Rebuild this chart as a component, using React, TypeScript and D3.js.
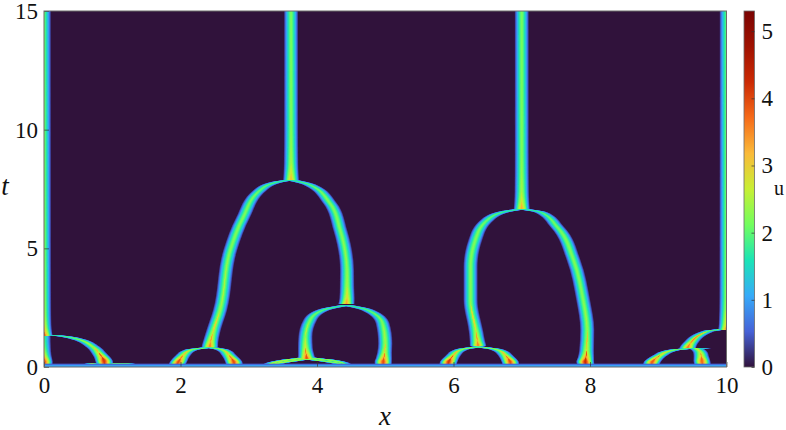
import * as d3 from 'd3'
import { useEffect, useRef } from 'react'

// ridge crests, each point is [x, t, peak u]
const leftEdgeLow = [[0, 0.1, 3.9], [0, 0.22, 4.1], [0, 0.36, 3.5], [0, 0.5, 2.8], [0, 0.8, 2.2], [0, 1.3, 1.9]]
const leftEdgeHigh = [[0, 1.33, 4], [0, 1.5, 3.3], [0, 1.8, 2.7], [0, 2.5, 2.4], [0, 4, 2.3], [0, 9, 2.2], [0, 15, 2.1]]
const firstArc = [[0.89, 0.1, 3.9], [0.88, 0.25, 4.2], [0.85, 0.42, 3.5], [0.8, 0.6, 2.8], [0.72, 0.84, 2.4], [0.43, 1.22, 2.1], [0.2, 1.32, 1.9], [0.02, 1.35, 1.8]]
const humpLeft = [[0.6, 0.09, 2.2], [0.72, 0.14, 2.8]]
const humpRight = [[1.6, 0.06, 1.8], [1.25, 0.13, 2.4], [1, 0.17, 2.5]]
const arc2Left = [[1.95, 0.1, 3.8], [1.97, 0.22, 4], [2, 0.36, 3.4], [2.04, 0.5, 2.8], [2.15, 0.72, 2.3], [2.43, 0.82, 2.1]]
const arc2Right = [[2.79, 0.1, 3.8], [2.78, 0.22, 4], [2.75, 0.36, 3.4], [2.71, 0.5, 2.8], [2.62, 0.72, 2.3], [2.43, 0.82, 2.1]]
const bigLeft = [[2.43, 0.85, 3.6], [2.44, 1.05, 3.1], [2.47, 1.4, 2.6], [2.58, 2.4, 2.35], [2.73, 4.93, 2.25], [2.92, 6.32, 2.25], [3.17, 7.46, 2.1], [3.42, 7.8, 1.9], [3.62, 7.88, 1.8]]
const bigRight = [[4.43, 2.65, 3.4], [4.44, 2.9, 2.9], [4.44, 3.4, 2.45], [4.44, 4.09, 2.3], [4.34, 5.77, 2.25], [4.19, 6.9, 2.25], [3.9, 7.67, 2], [3.62, 7.88, 1.8]]
const columnA = [[3.62, 7.88, 3.2], [3.62, 8.15, 2.8], [3.62, 8.6, 2.45], [3.62, 10, 2.25], [3.62, 15, 2.2]]
const midLeft = [[3.85, 0.36, 4], [3.84, 0.55, 3.3], [3.83, 0.8, 2.7], [3.83, 1.26, 2.3], [3.9, 1.98, 2.2], [4.09, 2.4, 2], [4.43, 2.6, 1.8]]
const midRight = [[4.97, 0.1, 3.8], [4.97, 0.22, 4], [4.98, 0.38, 3.4], [4.99, 0.6, 2.7], [5, 1, 2.4], [4.96, 1.85, 2.2], [4.74, 2.4, 2], [4.43, 2.6, 1.8]]
const lowLeft = [[3.3, 0.06, 1.8], [3.5, 0.2, 2.6], [3.85, 0.34, 2.4]]
const lowLeftOuter = [[3.26, 0.06, 1.8], [3.46, 0.24, 2.6], [3.85, 0.4, 2.4]]
const lowRight = [[4.4, 0.06, 1.8], [4.24, 0.2, 2.4], [3.85, 0.34, 2.4]]
const lowRightOuter = [[4.44, 0.06, 1.8], [4.28, 0.24, 2.4], [3.85, 0.4, 2.4]]
const arc6Left = [[5.92, 0.1, 4], [5.93, 0.22, 4.2], [5.96, 0.36, 3.5], [6, 0.5, 2.8], [6.1, 0.72, 2.3], [6.36, 0.85, 2.1]]
const arc6Right = [[6.84, 0.1, 3.8], [6.83, 0.22, 4], [6.8, 0.36, 3.4], [6.76, 0.5, 2.8], [6.65, 0.72, 2.3], [6.36, 0.85, 2.1]]
const secondLeft = [[6.36, 0.9, 3.6], [6.35, 1.1, 3], [6.33, 1.5, 2.55], [6.25, 2.82, 2.25], [6.25, 4.2, 2.25], [6.32, 5.35, 2.25], [6.5, 6.2, 2.1], [6.73, 6.53, 1.9], [7, 6.66, 1.8]]
const secondRight = [[7.94, 0.1, 4.1], [7.93, 0.22, 4.3], [7.94, 0.4, 3.5], [7.95, 0.7, 2.7], [7.96, 1.56, 2.35], [7.9, 2.82, 2.25], [7.76, 4.5, 2.25], [7.52, 5.9, 2.2], [7.27, 6.53, 1.9], [7, 6.66, 1.8]]
const columnB = [[7, 6.66, 3.3], [7, 6.95, 2.8], [7, 7.4, 2.45], [7, 9, 2.25], [7, 15, 2.2]]
const rightFoot = [[8.9, 0.1, 3.7], [8.91, 0.2, 3.9], [8.96, 0.36, 3.3], [9.03, 0.5, 2.7], [9.2, 0.7, 2.3], [9.43, 0.8, 2], [9.76, 0.78, 1.6]]
const rightLeg = [[9.65, 0.1, 3.6], [9.64, 0.25, 3.8], [9.63, 0.45, 3], [9.62, 0.6, 2.7], [9.55, 0.8, 2.4]]
const rightRise = [[9.43, 0.8, 3.7], [9.47, 1, 3], [9.72, 1.5, 2], [9.98, 1.6, 1.8]]
const rightEdge = [[10, 1.58, 3.6], [10, 1.85, 2.9], [10, 3, 2.35], [10, 9, 2.15], [10, 15, 2.05]]
const ridges = [leftEdgeLow, leftEdgeHigh, firstArc, humpLeft, humpRight, arc2Left, arc2Right, bigLeft, bigRight, columnA,
  midLeft, midRight, lowLeft, lowLeftOuter, lowRight, lowRightOuter, arc6Left, arc6Right, secondLeft, secondRight, columnB, rightFoot, rightLeg, rightRise, rightEdge]

const xTicks = [0, 2, 4, 6, 8, 10]
const tTicks = [0, 5, 10, 15]
const uTicks = [0, 1, 2, 3, 4, 5]
const uMax = 5.3
const turboStops = ['#30123b', '#4662d7', '#36aaf9', '#1ae4b6', '#72fe5e', '#c8ef34', '#faba39', '#f66b19', '#cb2a04', '#a01201', '#7a0403']

const serif = '"Liberation Serif", serif'

export default function App() {
  const ref = useRef<SVGSVGElement>(null)

  useEffect(() => {
    const svg = d3.select(ref.current)
    svg.selectAll('*').remove()

    const x = d3.scaleLinear([0, 10], [44, 726.5])
    const t = d3.scaleLinear([0, 15], [367, 11])
    const uBar = d3.scaleLinear([0, uMax], [367, 11])
    const color = d3.scaleLinear<string>(turboStops.map((_, i) => (i / 10) * uMax), turboStops)

    svg.append('clipPath').attr('id', 'plot').append('rect')
      .attr('x', 44).attr('y', 11).attr('width', 682.5).attr('height', 356)
    svg.append('filter').attr('id', 'soft').append('feGaussianBlur').attr('stdDeviation', 0.7)

    const clipped = svg.append('g').attr('clip-path', 'url(#plot)')
    clipped.append('rect').attr('x', 44).attr('y', 11).attr('width', 682.5).attr('height', 356).attr('fill', color(0))
    const field = clipped.append('g').attr('filter', 'url(#soft)')

    // each level is the set of x where u is above it, flat topped profile that gets wider with the peak
    const half = (A: number, level: number) => (A > level ? (0.078 + 0.013 * A) * Math.pow(1 - level / A, 0.75) : 0)
    d3.range(0.12, uMax, 0.07).forEach(level => {
      const area = d3.area<number[]>()
        .y(d => t(d[1]))
        .x0(d => x(d[0] - half(d[2], level)))
        .x1(d => x(d[0] + half(d[2], level)))
        .curve(d3.curveMonotoneY)
      const g = field.append('g').attr('fill', color(level))
      ridges.forEach(r => {
        if (d3.max(r, d => d[2])! > level) g.append('path').attr('d', area(r))
      })
    })

    // the start line at t = 0
    field.append('rect').attr('x', x(0) - 5).attr('width', x(10) - x(0) + 10)
      .attr('y', t(0.14)).attr('height', t(0) - t(0.14) + 5).attr('fill', color(0.55))
    field.append('rect').attr('x', x(0) - 5).attr('width', x(10) - x(0) + 10)
      .attr('y', t(0.09)).attr('height', t(0) - t(0.09) + 5).attr('fill', color(1.0))

    const styleAxis = (g: any) => {
      g.select('.domain').remove()
      g.selectAll('.tick line').attr('stroke', '#333').attr('stroke-width', 0.7)
      g.selectAll('.tick text').attr('font-family', serif).attr('font-size', 23).attr('fill', '#111')
    }

    svg.append('g').attr('transform', 'translate(0,367)')
      .call(d3.axisBottom(x).tickValues(xTicks).tickFormat(d3.format('d')).tickSize(-5).tickPadding(10))
      .call(styleAxis)
    svg.append('g').attr('transform', 'translate(44,0)')
      .call(d3.axisLeft(t).tickValues(tTicks).tickFormat(d3.format('d')).tickSize(-5).tickPadding(6))
      .call(styleAxis)

    svg.append('rect').attr('x', 44).attr('y', 11).attr('width', 682.5).attr('height', 356)
      .attr('fill', 'none').attr('stroke', '#6b6b6b').attr('stroke-width', 1)

    // colorbar
    const grad = svg.append('linearGradient').attr('id', 'turbo').attr('x1', 0).attr('x2', 0).attr('y1', 1).attr('y2', 0)
    turboStops.forEach((c, i) => grad.append('stop').attr('offset', i / 10).attr('stop-color', c))
    svg.append('rect').attr('x', 744).attr('y', 11).attr('width', 10.5).attr('height', 356)
      .attr('fill', 'url(#turbo)').attr('stroke', '#6b6b6b').attr('stroke-width', 0.8)
    svg.append('g').attr('transform', 'translate(754.5,0)')
      .call(d3.axisRight(uBar).tickValues(uTicks).tickFormat(d3.format('d')).tickSize(-3).tickPadding(7))
      .call(styleAxis)

    svg.append('text').attr('x', 385).attr('y', 425).attr('text-anchor', 'middle')
      .attr('font-family', serif).attr('font-style', 'italic').attr('font-size', 27).attr('fill', '#111').text('x')
    svg.append('text').attr('x', 5).attr('y', 195).attr('text-anchor', 'middle')
      .attr('font-family', serif).attr('font-style', 'italic').attr('font-size', 27).attr('fill', '#111').text('t')
    svg.append('text').attr('x', 779).attr('y', 195).attr('text-anchor', 'middle')
      .attr('font-family', serif).attr('font-size', 20).attr('fill', '#111').text('u')
  }, [])

  return <svg ref={ref} width={786} height={430} style={{ position: 'absolute', left: 0, top: 0 }} />
}
